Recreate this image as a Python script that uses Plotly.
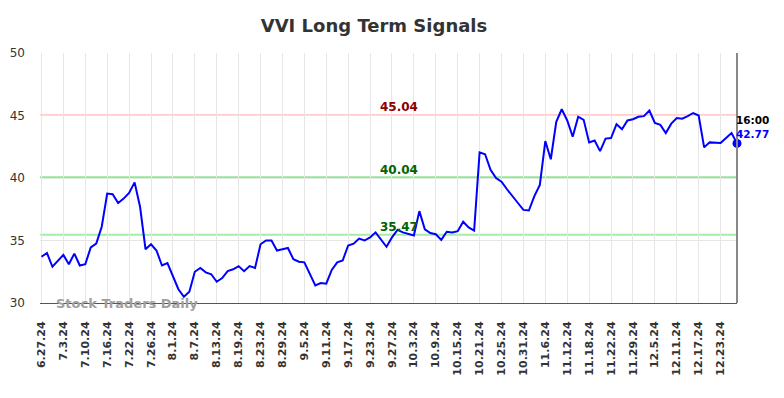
import plotly.graph_objects as go

dates = [
    "6.27.24", "6.28.24", "7.1.24", "7.2.24", "7.3.24", "7.5.24", "7.8.24", "7.9.24",
    "7.10.24", "7.11.24", "7.12.24", "7.15.24", "7.16.24", "7.17.24", "7.18.24", "7.19.24",
    "7.22.24", "7.23.24", "7.24.24", "7.25.24", "7.26.24", "7.29.24", "7.30.24", "7.31.24",
    "8.1.24", "8.2.24", "8.5.24", "8.6.24", "8.7.24", "8.8.24", "8.9.24", "8.12.24",
    "8.13.24", "8.14.24", "8.15.24", "8.16.24", "8.19.24", "8.20.24", "8.21.24", "8.22.24",
    "8.23.24", "8.26.24", "8.27.24", "8.28.24", "8.29.24", "8.30.24", "9.3.24", "9.4.24",
    "9.5.24", "9.6.24", "9.9.24", "9.10.24", "9.11.24", "9.12.24", "9.13.24", "9.16.24",
    "9.17.24", "9.18.24", "9.19.24", "9.20.24", "9.23.24", "9.24.24", "9.25.24", "9.26.24",
    "9.27.24", "9.30.24", "10.1.24", "10.2.24", "10.3.24", "10.4.24", "10.7.24", "10.8.24",
    "10.9.24", "10.10.24", "10.11.24", "10.14.24", "10.15.24", "10.16.24", "10.17.24", "10.18.24",
    "10.21.24", "10.22.24", "10.23.24", "10.24.24", "10.25.24", "10.28.24", "10.29.24", "10.30.24",
    "10.31.24", "11.1.24", "11.4.24", "11.5.24", "11.6.24", "11.7.24", "11.8.24", "11.11.24",
    "11.12.24", "11.13.24", "11.14.24", "11.15.24", "11.18.24", "11.19.24", "11.20.24", "11.21.24",
    "11.22.24", "11.25.24", "11.26.24", "11.27.24", "11.29.24", "12.2.24", "12.3.24", "12.4.24",
    "12.5.24", "12.6.24", "12.9.24", "12.10.24", "12.11.24", "12.12.24", "12.13.24", "12.16.24",
    "12.17.24", "12.18.24", "12.19.24", "12.20.24", "12.23.24", "12.24.24", "12.26.24", "12.27.24",
]

prices = [
    33.70, 34.00, 32.90, 33.40, 33.85, 33.10, 33.95, 33.00,
    33.10, 34.45, 34.75, 36.10, 38.75, 38.70, 38.00, 38.35,
    38.80, 39.65, 37.70, 34.30, 34.70, 34.20, 33.00, 33.20,
    32.10, 31.10, 30.50, 30.90, 32.50, 32.80, 32.45, 32.30,
    31.70, 32.00, 32.55, 32.70, 32.95, 32.55, 32.95, 32.80,
    34.70, 35.00, 35.00, 34.20, 34.30, 34.40, 33.50, 33.30,
    33.25, 32.35, 31.40, 31.60, 31.55, 32.65, 33.25, 33.40,
    34.60, 34.75, 35.15, 35.00, 35.25, 35.65, 35.10, 34.50,
    35.25, 35.85, 35.65, 35.55, 35.40, 37.35, 35.90, 35.60,
    35.50, 35.05, 35.70, 35.65, 35.75, 36.50, 36.05, 35.80,
    42.05, 41.90, 40.65, 40.00, 39.70, 39.10, 38.50, 38.00,
    37.45, 37.40, 38.55, 39.45, 42.95, 41.50, 44.50, 45.50,
    44.60, 43.30, 44.90, 44.65, 42.85, 43.00, 42.15, 43.15,
    43.20, 44.30, 43.90, 44.60, 44.70, 44.90, 44.95, 45.40,
    44.40, 44.25, 43.60, 44.35, 44.80, 44.75, 44.95, 45.20,
    45.00, 42.45, 42.85, 42.85, 42.80, 43.20, 43.60, 42.77,
]

tick_labels = dates[::4]
signal_levels = [45.04, 40.04, 35.47]
signal_line_colors = ["#ffcccc", "#90e890", "#a6eca6"]
signal_line_widths = [2, 2.5, 2]
signal_text_colors = ["#8b0000", "#006400", "#006400"]
last_time = "16:00"
title_text = "VVI Long Term Signals"
watermark = "Stock Traders Daily"

fig = go.Figure()

for lvl, lc, lw in zip(signal_levels, signal_line_colors, signal_line_widths):
    fig.add_shape(type="line", xref="paper", x0=0, x1=1, yref="y", y0=lvl, y1=lvl,
                  line=dict(color=lc, width=lw), layer="below")

fig.add_trace(go.Scatter(x=dates, y=prices, mode="lines",
                         line=dict(color="#0000ff", width=2), hoverinfo="skip",
                         showlegend=False))
fig.add_trace(go.Scatter(x=[dates[-1]], y=[prices[-1]], mode="markers",
                         marker=dict(color="#0000ff", size=9), hoverinfo="skip",
                         showlegend=False, cliponaxis=False))

mid = dates[len(dates) // 2 + 1]
for lvl, tc in zip(signal_levels, signal_text_colors):
    fig.add_annotation(x=mid, y=lvl, xref="x", yref="y", text=f"{lvl:.2f}",
                       showarrow=False, yanchor="bottom", yshift=-1, xshift=2,
                       font=dict(family="DejaVu Sans", size=12, color=tc, weight="bold"))

fig.add_annotation(x=dates[-1], y=prices[-1], xref="x", yref="y", text=last_time,
                   showarrow=False, xanchor="left", yanchor="middle", yshift=23, xshift=-3,
                   font=dict(family="DejaVu Sans", size=10.5, color="#000000", weight="bold"))
fig.add_annotation(x=dates[-1], y=prices[-1], xref="x", yref="y", text=f"{prices[-1]:.2f}",
                   showarrow=False, xanchor="left", yanchor="middle", yshift=9, xshift=-3,
                   font=dict(family="DejaVu Sans", size=10.5, color="#0000ff", weight="bold"))

fig.add_annotation(x=0.02, y=30, xref="paper", yref="y", text=watermark,
                   showarrow=False, xanchor="left", yanchor="middle",
                   font=dict(family="DejaVu Sans", size=13, color="#a0a0a0", weight="bold"))

fig.add_shape(type="line", xref="paper", x0=1, x1=1, yref="paper", y0=0, y1=1,
              line=dict(color="#888888", width=2))

fig.update_layout(
    width=784, height=398,
    margin=dict(l=40, r=47, t=53, b=95),
    paper_bgcolor="white", plot_bgcolor="white",
    title=dict(text=title_text, xref="container", x=374 / 784, xanchor="center",
               yref="container", y=1 - 26 / 398, yanchor="middle",
               font=dict(family="DejaVu Sans", size=18, color="#333333", weight="bold")),
    xaxis=dict(type="category", range=[-0.27, len(dates) - 1], automargin=False,
               tickmode="array", tickvals=tick_labels, ticktext=tick_labels,
               tickangle=-90, showgrid=True, gridcolor="#e6e6e6", gridwidth=1,
               showline=True, linecolor="#555555", linewidth=1, zeroline=False,
               ticks="", ticklabelstandoff=13,
               tickfont=dict(family="DejaVu Sans", size=11, color="#333333", weight="bold")),
    yaxis=dict(range=[30, 50], tickvals=[30, 35, 40, 45, 50], showgrid=True, automargin=False,
               gridcolor="#e6e6e6", gridwidth=1, zeroline=False, showline=False,
               ticks="", ticklabelstandoff=14,
               tickfont=dict(family="DejaVu Sans", size=12, color="#333333")),
)

fig.write_html("out.html", config={"displayModeBar": False},
               post_script="document.body.style.margin='0px';")
